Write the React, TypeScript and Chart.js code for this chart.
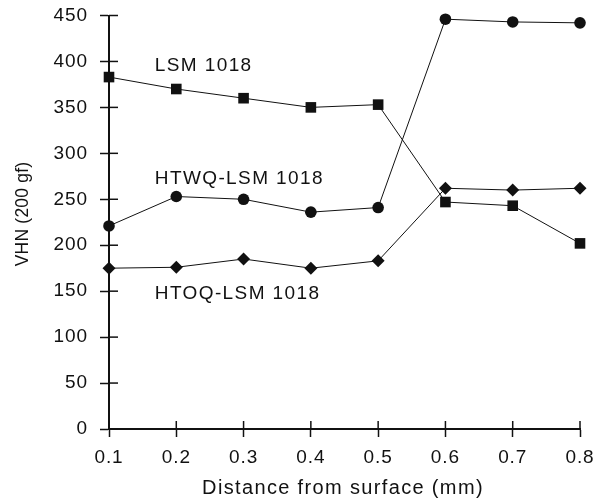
import React, { useEffect, useRef } from "react";
import { Chart, registerables } from "chart.js";

Chart.register(...registerables);

const distances = [0.1, 0.2, 0.3, 0.4, 0.5, 0.6, 0.7, 0.8];
const lsm1018 = [383, 370, 360, 350, 353, 247, 243, 202];
const htwq = [221, 253, 250, 236, 241, 446, 443, 442];
const htoq = [175, 176, 185, 175, 183, 262, 260, 262];
const seriesNames = ["LSM 1018", "HTWQ-LSM 1018", "HTOQ-LSM 1018"];
const labelX = [0.168, 0.168, 0.168];
const labelY = [395, 272, 147];
const xTitle = "Distance from surface (mm)";
const yTitle = "VHN (200 gf)";

const FONT = "'Liberation Sans', Arial, Helvetica, sans-serif";
const INK = "#111";

const extras = {
  id: "extras",
  beforeDraw(chart: any) {
    (chart.ctx as any).letterSpacing = "0.9px";
  },
  afterDraw(chart: any) {
    const ctx = chart.ctx;
    const xs = chart.scales.x;
    const ys = chart.scales.y;
    ctx.save();
    ctx.strokeStyle = INK;
    ctx.lineWidth = 1.5;
    ys.ticks.forEach((t: any) => {
      const py = ys.getPixelForValue(t.value);
      ctx.beginPath();
      ctx.moveTo(xs.left, py);
      ctx.lineTo(xs.left + 9, py);
      ctx.stroke();
    });
    xs.ticks.forEach((t: any) => {
      const px = xs.getPixelForValue(t.value);
      ctx.beginPath();
      ctx.moveTo(px, ys.bottom);
      ctx.lineTo(px, ys.bottom - 8);
      ctx.stroke();
    });
    ctx.fillStyle = INK;
    ctx.textBaseline = "middle";
    ctx.textAlign = "left";
    ctx.font = `19px ${FONT}`;
    ctx.letterSpacing = "1.4px";
    seriesNames.forEach((n, i) => {
      ctx.fillText(n, xs.getPixelForValue(labelX[i]), ys.getPixelForValue(labelY[i]));
    });
    // axis titles
    ctx.textAlign = "center";
    ctx.font = `20px ${FONT}`;
    ctx.letterSpacing = "1.35px";
    ctx.fillText(xTitle, 343, 488);
    ctx.save();
    ctx.translate(23.5, 214);
    ctx.rotate(-Math.PI / 2);
    ctx.font = `17.5px ${FONT}`;
    ctx.letterSpacing = "0.2px";
    ctx.fillText(yTitle, 0, 0);
    ctx.restore();
    ctx.restore();
    (ctx as any).letterSpacing = "0px";
  },
};

export default function App() {
  const ref = useRef<HTMLCanvasElement>(null);
  useEffect(() => {
    if (!ref.current) return;
    const mk = (data: number[], style: any, radius: number) => ({
      data: distances.map((d, i) => ({ x: d, y: data[i] })),
      borderColor: INK,
      backgroundColor: INK,
      borderWidth: 1,
      pointStyle: style,
      pointRadius: radius,
      pointBorderWidth: 0,
      pointBackgroundColor: INK,
      tension: 0,
      clip: false as any,
    });
    const chart = new Chart(ref.current, {
      type: "line",
      data: {
        datasets: [
          mk(lsm1018, "rect", 7.5),
          mk(htwq, "circle", 5.8),
          mk(htoq, "rectRot", 6.5),
        ],
      },
      plugins: [extras],
      options: {
        animation: false,
        responsive: false,
        devicePixelRatio: 1,
        layout: { padding: { top: 15.5, right: 24, left: 0, bottom: 0 } },
        plugins: { legend: { display: false }, tooltip: { enabled: false } },
        scales: {
          x: {
            type: "linear",
            min: 0.1,
            max: 0.8,
            afterFit: (s: any) => {
              s.height = 75;
              s.paddingLeft = 0;
              s.paddingRight = 0;
            },
            ticks: {
              stepSize: 0.1,
              color: INK,
              padding: 9,
              font: { family: FONT, size: 19 },
              callback: (v: any) => Number(v).toFixed(1),
            },
            grid: {
              drawOnChartArea: false,
              tickLength: 8,
              tickColor: INK,
              tickWidth: 1.5,
            },
            border: { color: INK, width: 2 },
          },
          y: {
            min: 0,
            max: 450,
            afterFit: (s: any) => {
              s.width = 109;
              s.paddingTop = 0;
              s.paddingBottom = 0;
            },
            ticks: {
              stepSize: 50,
              color: INK,
              padding: 12,
              font: { family: FONT, size: 19 },
            },
            grid: {
              drawOnChartArea: false,
              tickLength: 9,
              tickColor: INK,
              tickWidth: 1.5,
            },
            border: { color: INK, width: 2 },
          },
        },
      },
    });
    return () => chart.destroy();
  }, []);
  return (
    <div style={{ position: "absolute", left: 0, top: 0, width: 604, height: 504 }}>
      <canvas ref={ref} width={604} height={504} />
    </div>
  );
}
